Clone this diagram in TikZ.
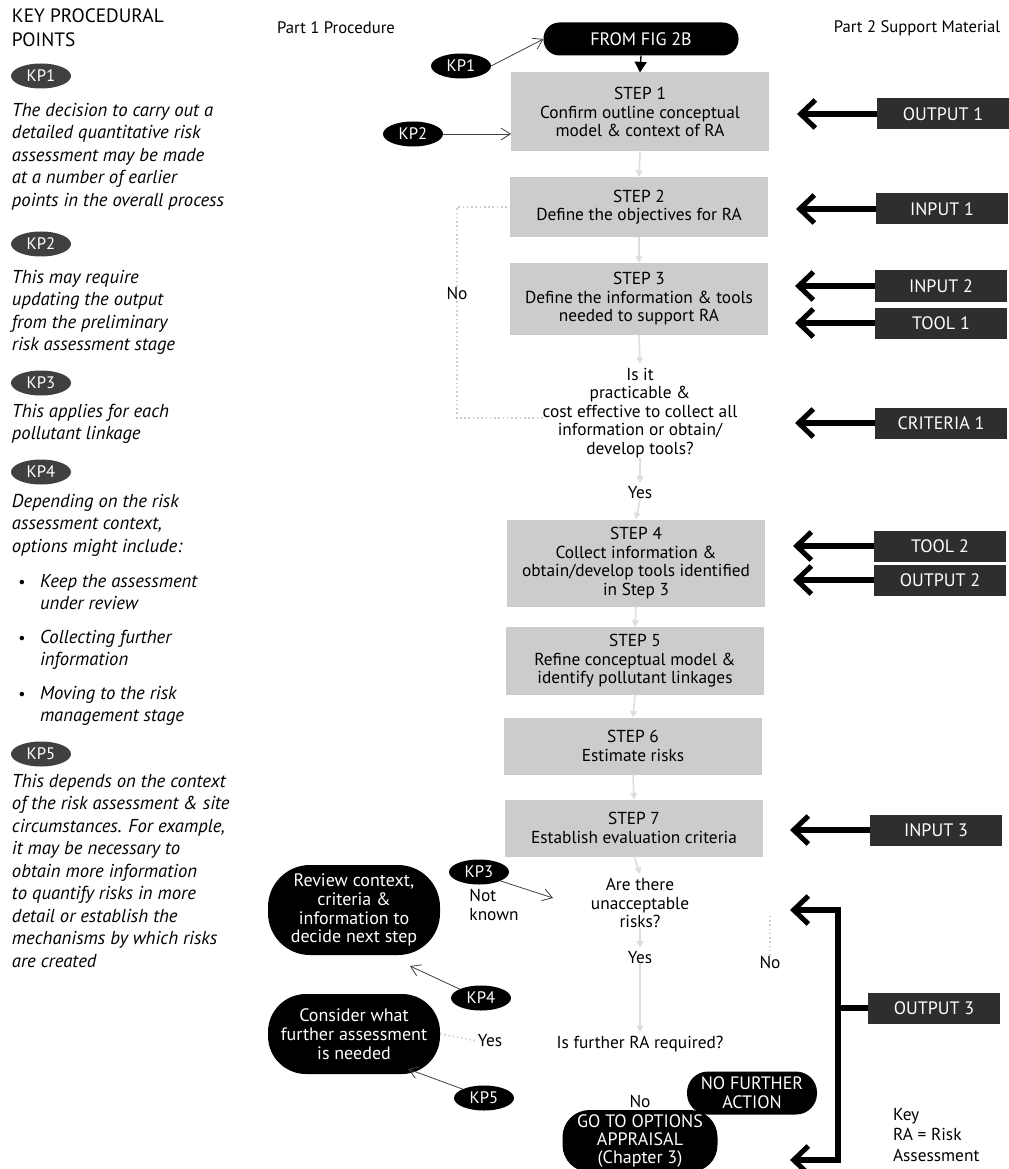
\documentclass[tikz,border=0pt]{standalone}
\usepackage{fontspec}
\setmainfont{PT Sans}
\usetikzlibrary{shapes.geometric,arrows.meta,calc}

\begin{document}
\begin{tikzpicture}[x=0.75pt,y=-0.75pt,
  every node/.style={inner sep=0pt, outer sep=0pt},
  txt/.style={font=\fontsize{13}{13.9}\selectfont, align=center},
  head/.style={font=\fontsize{12.5}{14}\selectfont},
  note/.style={font=\fontsize{14}{16.9}\selectfont\itshape, align=left, anchor=north west},
  stepbox/.style={txt, fill=black!20, minimum width={258*0.75pt}},
  kp/.style={ellipse, fill=black, text=white, font=\fontsize{12.5}{13}\selectfont,
    minimum width={60*0.75pt}, minimum height={25*0.75pt}},
  kpkey/.style={kp, fill=black!75},
  pill/.style={txt, fill=black, text=white, font=\fontsize{13.5}{14.2}\selectfont},
  res/.style={fill=black!82, text=white, font=\fontsize{13.5}{14}\selectfont,
    minimum width={132*0.75pt}, minimum height={31*0.75pt}, anchor=west},
  feed/.style={line width=3.8pt, -{Straight Barb[length=11pt,width=21pt]}},
  pointer/.style={line width=0.6pt, black!75, -{Straight Barb[length=7pt,width=9pt]}},
  faint/.style={black!13, line width=1.2pt, -{Triangle[length=5pt,width=5pt]}},
  faintdot/.style={black!20, line width=1.2pt, dotted},
]
\useasboundingbox (0,0) rectangle (1008,1169);

% ---------- key procedural points (left column) ----------
\node[anchor=north west, align=left, font=\fontsize{14.5}{18}\selectfont] (kph) at (12,9) {KEY PROCEDURAL\\POINTS};

\node[kpkey] (k1) at (41,76) {KP1};
\node[note] (n1) at (12,103) {The decision to carry out a\\detailed quantitative risk\\assessment may be made\\at a number of earlier\\points in the overall process};

\node[kpkey] (k2) at (41,244) {KP2};
\node[note] (n2) at (12,270) {This may require\\updating the output\\from the preliminary\\risk assessment stage};

\node[kpkey] (k3) at (41,383) {KP3};
\node[note] (n3) at (12,404) {This applies for each\\pollutant linkage};

\node[kpkey] (k4) at (41,472) {KP4};
\node[note] (n4) at (12,494) {Depending on the risk\\assessment context,\\options might include:};
\node[note] (b1) at (40,574) {Keep the assessment\\under review};
\node[note] (b2) at (40,630) {Collecting further\\information};
\node[note] (b3) at (40,686) {Moving to the risk\\management stage};
\foreach \yy/\nm in {584/d1,640/d2,696/d3} \node[font=\fontsize{12}{12}\selectfont] (\nm) at (22,\yy) {\textbullet};

\node[kpkey] (k5) at (41,754) {KP5};
\node[note] (n5) at (12,774) {This depends on the context\\of the risk assessment \& site\\circumstances. For example,\\it may be necessary to\\obtain more information\\to quantify risks in more\\detail or establish the\\mechanisms by which risks\\are created};

% ---------- column headings ----------
\node[head] (h1) at (336,28) {Part 1 Procedure};
\node[head] (h2) at (917,28) {Part 2 Support Material};

% ---------- procedure ----------
\node[pill, minimum width={195*0.75pt}, minimum height={33*0.75pt}, rounded corners={16*0.75pt}] (fig) at (641,39) {FROM FIG 2B};

\node[stepbox, minimum height={79*0.75pt}] (s1) at (640,112) {STEP 1\\Confirm outline conceptual\\model \& context of RA};
\node[stepbox, minimum height={60*0.75pt}] (s2) at (639,207) {STEP 2\\Define the objectives for RA};
\node[stepbox, minimum height={72*0.75pt}] (s3) at (639,299) {STEP 3\\Define the information \& tools\\needed to support RA};
\node[txt] (q1) at (640,413) {Is it\\practicable \&\\cost effective to collect all\\information or obtain/\\develop tools?};
\node[txt] (y1) at (640,493) {Yes};
\node[stepbox, minimum height={87*0.75pt}] (s4) at (636,563) {STEP 4\\Collect information \&\\obtain/develop tools identified\\in Step 3};
\node[stepbox, minimum height={68*0.75pt}] (s5) at (635,661) {STEP 5\\Refine conceptual model \&\\identify pollutant linkages};
\node[stepbox, minimum height={57*0.75pt}] (s6) at (633,746) {STEP 6\\Estimate risks};
\node[stepbox, minimum height={57*0.75pt}] (s7) at (634,828) {STEP 7\\Establish evaluation criteria};
\node[txt] (q2) at (640,903) {Are there\\unacceptable\\risks?};
\node[txt] (y2) at (640,958) {Yes};
\node[txt] (q3) at (640,1044) {Is further RA required?};
\node[txt] (no3) at (640,1101) {No};
\node[pill, font=\fontsize{13.5}{13.2}\selectfont, minimum width={155*0.75pt}, minimum height={62*0.75pt}, rounded corners={27*0.75pt}] (go) at (640,1141) {GO TO OPTIONS\\APPRAISAL\\(Chapter 3)};
\node[pill, minimum width={130*0.75pt}, minimum height={43*0.75pt}, rounded corners={21*0.75pt}] (nfa) at (752,1093) {NO FURTHER\\ACTION};
\node[txt] (no2) at (770,962) {No};

\node[txt] (no1) at (457,293) {No};
\node[txt, align=left] (nk) at (494,905) {Not\\known};
\node[txt] (y3) at (490,1041) {Yes};

\node[pill, minimum width={172*0.75pt}, minimum height={90*0.75pt}, rounded corners={42*0.75pt}] (rev) at (354,910) {Review context,\\criteria \&\\information to\\decide next step};
\node[pill, minimum width={172*0.75pt}, minimum height={80*0.75pt}, rounded corners={38*0.75pt}] (con) at (354,1034) {Consider what\\further assessment\\is needed};

\node[kp] (p1) at (461,66) {KP1};
\node[kp] (p2) at (413,134) {KP2};
\node[kp] (p3) at (479,872) {KP3};
\node[kp] (p4) at (481,998) {KP4};
\node[kp] (p5) at (484,1098) {KP5};

% faint flow connectors
\draw[black, line width=1pt, -{Triangle[length=8pt,width=9pt]}] (fig.south) -- (s1.north);
\draw[faint] (s1.south) -- (s2.north);
\draw[faint] (s2.south) -- (s3.north);
\draw[faint] (s3.south) -- ($(q1.north)+(0,-4)$);
\draw[faint] (q1.south) -- ($(y1.north)+(0,-4)$);
\draw[faint] (y1.south) -- (s4.north);
\draw[faint] (s4.south) -- (s5.north);
\draw[faint] (s5.south) -- (s6.north);
\draw[faint] (s6.south) -- (s7.north);
\draw[faint] (s7.south) -- ($(q2.north)+(0,-4)$);
\draw[faint] (q2.south) -- ($(y2.north)+(0,-4)$);
\draw[faint] (y2.south) -- ($(q3.north)+(0,-4)$);
\draw[faintdot] (q1.west |- 0,418) -- (457,418) -- (no1.south);
\draw[faintdot] (no1.north) -- (457,207) -- (s2.west);
\draw[faintdot] (con.east) -- (y3.west);
\draw[faintdot] (no2.north) -- ++(0,-40);

% key point pointers
\draw[pointer] (p1.east) -- (fig.west);
\draw[pointer] (p2.east) -- (s1.west |- p2.east);
\draw[pointer] (p3.south east) -- (553,898);
\draw[pointer] (p4.north west) -- ([shift={(-30,11)}]rev.south east);
\draw[pointer] (p5.north west) -- ([shift={(-32,-5)}]con.south east);

% ---------- support material ----------
\node[res] (o1) at (877,114) {OUTPUT 1};
\node[res] (i1) at (876,209) {INPUT 1};
\node[res] (i2) at (875,286) {INPUT 2};
\node[res] (t1) at (875,323) {TOOL 1};
\node[res] (c1) at (875,423) {CRITERIA 1};
\node[res] (t2) at (874,546) {TOOL 2};
\node[res] (o2) at (874,580) {OUTPUT 2};
\node[res] (i3) at (870,830) {INPUT 3};
\node[res] (o3) at (868,1008) {OUTPUT 3};

\coordinate (a1) at (797,114);
\coordinate (a2) at (796,209);
\coordinate (a3) at (795,286);
\coordinate (a4) at (795,323);
\coordinate (a5) at (795,423);
\coordinate (a6) at (793,546);
\coordinate (a7) at (793,580);
\coordinate (a8) at (790,830);
\coordinate (jn) at (838,1008);
\coordinate (bt) at (838,910);
\coordinate (bb) at (838,1160);
\coordinate (a9) at (790,910);
\coordinate (a10) at (790,1160);

\draw[feed] (o1.west) -- (a1);
\draw[feed] (i1.west) -- (a2);
\draw[feed] (i2.west) -- (a3);
\draw[feed] (t1.west) -- (a4);
\draw[feed] (c1.west) -- (a5);
\draw[feed] (t2.west) -- (a6);
\draw[feed] (o2.west) -- (a7);
\draw[feed] (i3.west) -- (a8);
\draw[line width=3.8pt] (o3.west) -- (jn);
\draw[feed] (jn) -- (bt) -- (a9);
\draw[feed] (jn) -- (bb) -- (a10);

\node[txt, align=left, anchor=north west, font=\fontsize{13}{15.5}\selectfont] (key) at (893,1108) {Key\\RA = Risk\\Assessment};

\end{tikzpicture}
\end{document}
